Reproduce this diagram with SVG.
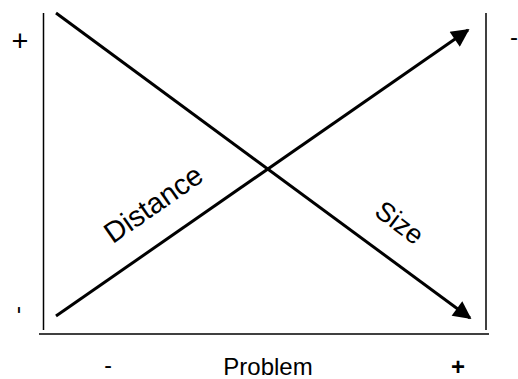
<svg xmlns="http://www.w3.org/2000/svg" width="518" height="379" viewBox="0 0 518 379">
<style>
.ax{stroke:#000;stroke-width:1.5;fill:none}
.ar{stroke:#000;stroke-width:3;fill:none}
.t{font-family:"Liberation Sans",Arial,sans-serif;fill:#000}
</style>
<defs>
<marker id="ah" viewBox="0 0 10 10" refX="9" refY="5" markerWidth="7.5" markerHeight="6" markerUnits="strokeWidth" orient="auto">
<path d="M0,0 L10,5 L0,10 z" fill="#000"/>
</marker>
</defs>
<rect width="518" height="379" fill="#fff"/>
<g id="connectors">
<line class="ax" x1="43.5" y1="13" x2="43.5" y2="330"/>
<line class="ax" x1="486" y1="13" x2="486" y2="330"/>
<line class="ax" x1="39" y1="334" x2="489" y2="334"/>
<line class="ar" x1="56" y1="13" x2="470" y2="318" marker-end="url(#ah)"/>
<line class="ar" x1="56" y1="316" x2="468" y2="30" marker-end="url(#ah)"/>
</g>
<g id="labels">
<text class="t" x="20" y="51" font-size="29" text-anchor="middle">+</text>
<text class="t" x="514" y="45" font-size="24" text-anchor="middle">-</text>
<text class="t" font-size="24" text-anchor="middle" transform="translate(21,310) rotate(90)" dy="8">-</text>
<text class="t" x="108" y="373" font-size="23" text-anchor="middle">-</text>
<text class="t" x="268" y="375" font-size="24" text-anchor="middle">Problem</text>
<text class="t" x="458" y="375" font-size="24" font-weight="bold" text-anchor="middle">+</text>
</g>
<g id="Distance">
<text class="t" font-size="29" text-anchor="middle" transform="translate(159,212) rotate(-35)">Distance</text>
</g>
<g id="Size">
<text class="t" font-size="27" text-anchor="middle" transform="translate(394,230) rotate(37)">Size</text>
</g>
</svg>
